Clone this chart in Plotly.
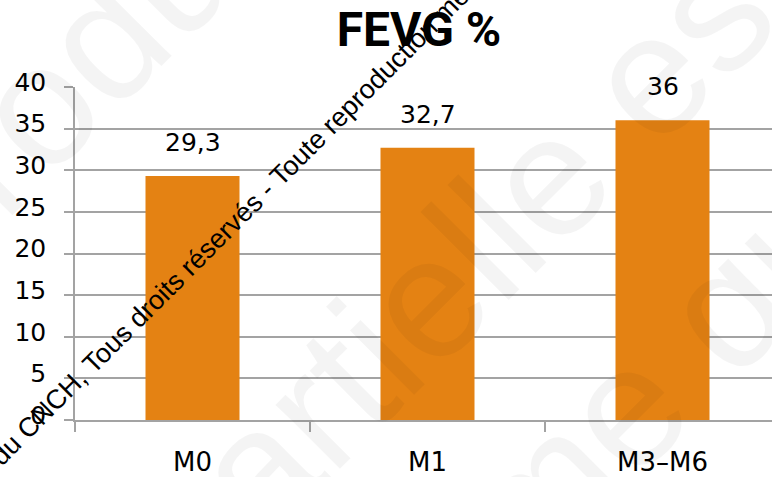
import plotly.graph_objects as go

# ---- data ----
categories = ["M0", "M1", "M3–M6"]
fevg_values = [29.3, 32.7, 36]
y_tick_values = [0, 5, 10, 15, 20, 25, 30, 35, 40]
chart_title = "FEVG %"
watermark_line = "du CNCH, Tous droits réservés - Toute reproduction même"
faint_words = ["reproduction", "partielle est", "forme que"]

# ---- geometry helpers (page pixels -> paper) ----
W, H = 772, 477
ML, MR, MT, MB = 75, 0, 87, 55
PW, PH = W - ML - MR, H - MT - MB


def px(x):
    return (x - ML) / PW


def py(y):
    return (H - MB - y) / PH


BAR = "#E48213"
GRID = "#a3a3a3"
FONT = "DejaVu Sans"

fig = go.Figure()
fig.add_trace(go.Bar(
    x=categories, y=fevg_values, width=0.4,
    marker=dict(color=BAR, line=dict(width=0)),
    hoverinfo="skip", showlegend=False,
))

annotations = []
for c, v in zip(categories, fevg_values):
    annotations.append(dict(
        x=c, y=v, xref="x", yref="y", text=f"{v:g}".replace(".", ","),
        showarrow=False, yanchor="bottom", xanchor="center", yshift=17,
        font=dict(family=FONT, size=25, color="#000000"),
    ))

# faint big watermark
faint_pos = [(124, 19), (465, 260), (620, 414)]
for word, (x0, y0) in zip(faint_words, faint_pos):
    annotations.append(dict(
        x=px(x0), y=py(y0), xref="paper", yref="paper", text=word,
        showarrow=False, textangle=-45, xanchor="center", yanchor="middle",
        font=dict(family="Liberation Sans", size=172, color="rgba(0,0,0,0.045)"),
    ))

# diagonal black watermark
annotations.append(dict(
    x=px(243), y=py(214), xref="paper", yref="paper", text=watermark_line,
    showarrow=False, textangle=-45, xanchor="center", yanchor="middle",
    font=dict(family="Liberation Sans", size=27, color="#000000"),
))

fig.update_layout(
    width=W, height=H,
    margin=dict(l=ML, r=MR, t=MT, b=MB, pad=0),
    paper_bgcolor="white", plot_bgcolor="white",
    title=dict(text=chart_title, x=419 / W, xref="container", xanchor="center",
               y=1 - 29 / H, yref="container", yanchor="middle",
               font=dict(family="Roboto", size=48, color="#000000", weight="bold")),
    annotations=annotations,
    bargap=0.6,
)
fig.update_xaxes(
    type="category", range=[-0.5, -0.5 + PW / 235.0],
    showline=True, linecolor=GRID, linewidth=1.5,
    ticks="outside", tickson="boundaries", ticklen=10, tickcolor=GRID, tickwidth=1.5,
    showgrid=False, ticklabelstandoff=18,
    tickfont=dict(family=FONT, size=26, color="#000000"),
)
fig.update_yaxes(
    range=[0, 40], tickvals=y_tick_values,
    showline=True, linecolor=GRID, linewidth=1.5,
    showgrid=True, gridcolor=GRID, gridwidth=1.5, zeroline=False,
    ticks="outside", ticklen=9, tickcolor=GRID, tickwidth=1.5,
    ticklabelstandoff=13, ticklabelshift=-5,
    tickfont=dict(family=FONT, size=25, color="#000000"),
)

fig.write_html("out.html", config={"displayModeBar": False},
               post_script="document.body.style.margin='0';")
